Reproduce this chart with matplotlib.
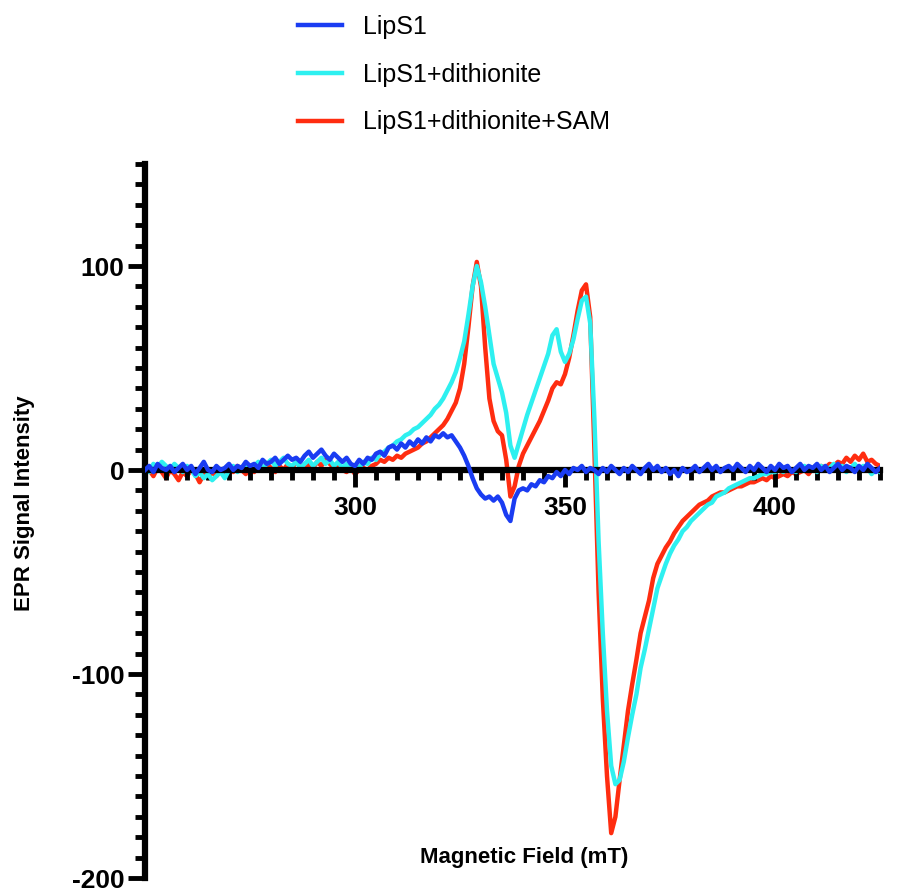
import numpy as np
import matplotlib
matplotlib.use("Agg")
import matplotlib.pyplot as plt
from matplotlib.ticker import MultipleLocator, FixedLocator

plt.rcParams['font.family'] = ['Liberation Sans', 'DejaVu Sans']
plt.rcParams['axes.unicode_minus'] = False

# ---- data (1 mT steps) ----
field = np.arange(250, 426, 1)  # Magnetic Field (mT)

lips1 = [
    0, 2, -1, 3, 1, 0, 2, -1, 1, 3,            # 250-259
    0, 2, -2, 1, 4, 0, -1, 2, 0, 1,            # 260-269
    3, 0, 2, 1, 4, 2, 3, 1, 5, 3,              # 270-279
    4, 6, 3, 5, 7, 5, 6, 4, 7, 9,              # 280-289
    6, 8, 10, 7, 5, 8, 6, 4, 6, 3,             # 290-299
    2, 5, 3, 6, 5, 8, 9, 7, 11, 12,            # 300-309
    10, 13, 11, 14, 12, 15, 13, 16, 14, 17,    # 310-319
    16, 18, 16, 17, 14, 11, 7, 2, -4, -9,      # 320-329
    -12, -14, -13, -15, -13, -16, -22, -25, -14, -10,  # 330-339
    -9, -10, -7, -8, -5, -6, -3, -4, -1, -3,   # 340-349
    0, -2, 1, 0, 2, -1, 1, 0, -2, 1,           # 350-359
    -1, 2, 0, -2, 1, -1, 2, 0, -2, 1,          # 360-369
    3, 0, 2, -1, 1, -2, 0, -3, 1, -1,          # 370-379
    0, 2, -1, 1, 3, 0, 2, -1, 1, 2,            # 380-389
    0, 3, 1, -1, 2, 0, 3, 1, -1, 2,            # 390-399
    0, 3, 1, 2, -1, 1, 3, 0, 2, 1,             # 400-409
    3, 0, 2, -1, 1, 3, 0, 2, 1, -1,            # 410-419
    2, 0, 3, 1, -1, 1,                         # 420-425
]

lips1_dith = [
    2, -1, 3, 1, 4, 2, 0, 3, 1, -1,            # 250-259
    2, 0, -3, -1, -4, -2, -5, -3, -1, -4,      # 260-269
    0, 2, -1, 1, 3, 0, 2, 4, 1, 3,             # 270-279
    5, 2, 4, 6, 3, 2, 4, 1, 3, 5,              # 280-289
    2, 4, 6, 3, 5, 2, 4, 1, 3, 0,              # 290-299
    2, 1, 4, 3, 6, 5, 8, 9, 11, 12,            # 300-309
    14, 15, 17, 18, 20, 21, 23, 25, 27, 30,    # 310-319
    32, 35, 39, 43, 48, 55, 63, 76, 90, 100,   # 320-329
    92, 80, 66, 52, 45, 38, 28, 12, 6, 13,     # 330-339
    20, 27, 33, 39, 45, 51, 57, 66, 69, 58,    # 340-349
    53, 57, 64, 74, 83, 85, 72, 25, -35, -80,  # 350-359
    -118, -145, -154, -152, -143, -131, -120, -110, -97, -88,  # 360-369
    -78, -68, -58, -52, -46, -41, -37, -34, -30, -28,  # 370-379
    -25, -23, -21, -19, -17, -16, -13, -12, -11, -9,   # 380-389
    -8, -7, -6, -5, -4, -4, -3, -2, -2, -1,    # 390-399
    -1, 0, -1, 1, 0, -1, 1, 2, 0, 1,           # 400-409
    -1, 2, 0, 1, 3, 0, 2, -1, 1, 3,            # 410-419
    0, 2, 1, -2, 0, -1,                        # 420-425
]

lips1_dith_sam = [
    -2, 0, -3, 1, -1, -4, 0, -2, -5, -1,       # 250-259
    -3, 0, -2, -6, -2, -4, -1, -3, 0, -2,      # 260-269
    1, -1, 2, 0, -2, 1, -1, 2, 0, 3,           # 270-279
    1, -1, 2, 0, 3, 1, 4, 2, 0, 3,             # 280-289
    1, 4, 2, 5, 3, 1, 2, 0, -1, 1,             # 290-299
    -2, 0, 1, 0, 2, 3, 5, 4, 6, 5,             # 300-309
    7, 6, 8, 9, 10, 11, 13, 14, 16, 18,        # 310-319
    20, 22, 25, 29, 33, 40, 52, 70, 90, 102,   # 320-329
    90, 60, 35, 24, 19, 17, 5, -13, -8, 2,     # 330-339
    8, 12, 16, 20, 24, 29, 34, 40, 43, 42,     # 340-349
    47, 55, 66, 78, 88, 91, 75, 10, -60, -112, # 350-359
    -150, -178, -170, -152, -135, -118, -105, -93, -80, -72,  # 360-369
    -64, -53, -46, -42, -38, -35, -31, -28, -25, -23,  # 370-379
    -21, -19, -17, -16, -15, -13, -12, -11, -11, -10,  # 380-389
    -9, -8, -8, -7, -6, -6, -5, -4, -5, -3,    # 390-399
    -4, -3, -2, -3, -1, -2, -1, 0, -2, 1,      # 400-409
    0, 2, 1, 3, 2, 4, 3, 6, 4, 7,              # 410-419
    5, 8, 4, 5, 3, 2,                          # 420-425
]

series = [
    ("LipS1", lips1, "#1a3cf2", 3),
    ("LipS1+dithionite", lips1_dith, "#2ef0f0", 2),
    ("LipS1+dithionite+SAM", lips1_dith_sam, "#ff2d10", 1),
]

# ---- figure ----
fig = plt.figure(figsize=(9.01, 8.93), dpi=100)
ax = fig.add_axes([145 / 901, 15 / 893, 735 / 901, 714 / 893])

for label, vals, color, z in series:
    ax.plot(field, vals, color=color, lw=3.2, label=label, zorder=z)

ax.set_xlim(250, 425)
ax.set_ylim(-200, 150)

# axes styling: x axis crosses at y = 0
ax.spines['top'].set_visible(False)
ax.spines['right'].set_visible(False)
ax.spines['bottom'].set_position(('data', 0))
for s in ("left", "bottom"):
    ax.spines[s].set_linewidth(4.5)
    ax.spines[s].set_capstyle("projecting")

ax.xaxis.set_major_locator(FixedLocator([300, 350, 400]))
ax.xaxis.set_minor_locator(MultipleLocator(5))
ax.yaxis.set_major_locator(FixedLocator([-200, -100, 0, 100]))
ax.yaxis.set_minor_locator(MultipleLocator(10))

ax.tick_params(axis="both", which="major", length=12, width=3.5, direction="out")
ax.tick_params(axis="both", which="minor", length=7, width=3.5, direction="out")
ax.tick_params(axis="x", which="major", pad=7)
ax.tick_params(axis="y", which="major", pad=3)
for t in ax.get_xticklabels() + ax.get_yticklabels():
    t.set_fontsize(19)
    t.set_fontweight("bold")

# axis titles
fig.text(524 / 901, 1 - 857 / 893, "Magnetic Field (mT)", ha="center", va="center",
         fontsize=16, fontweight="bold")
fig.text(25 / 901, 1 - 503 / 893, "EPR Signal Intensity", ha="center", va="center",
         rotation=90, fontsize=16, fontweight="bold")

# legend on top
fig.legend(loc="upper left", bbox_to_anchor=(298 / 901, 1 - 15 / 893), frameon=False,
           fontsize=18, handlelength=1.75, handletextpad=0.85, labelspacing=0.95,
           borderpad=0, borderaxespad=0)

fig.savefig("out.png", dpi=100)
